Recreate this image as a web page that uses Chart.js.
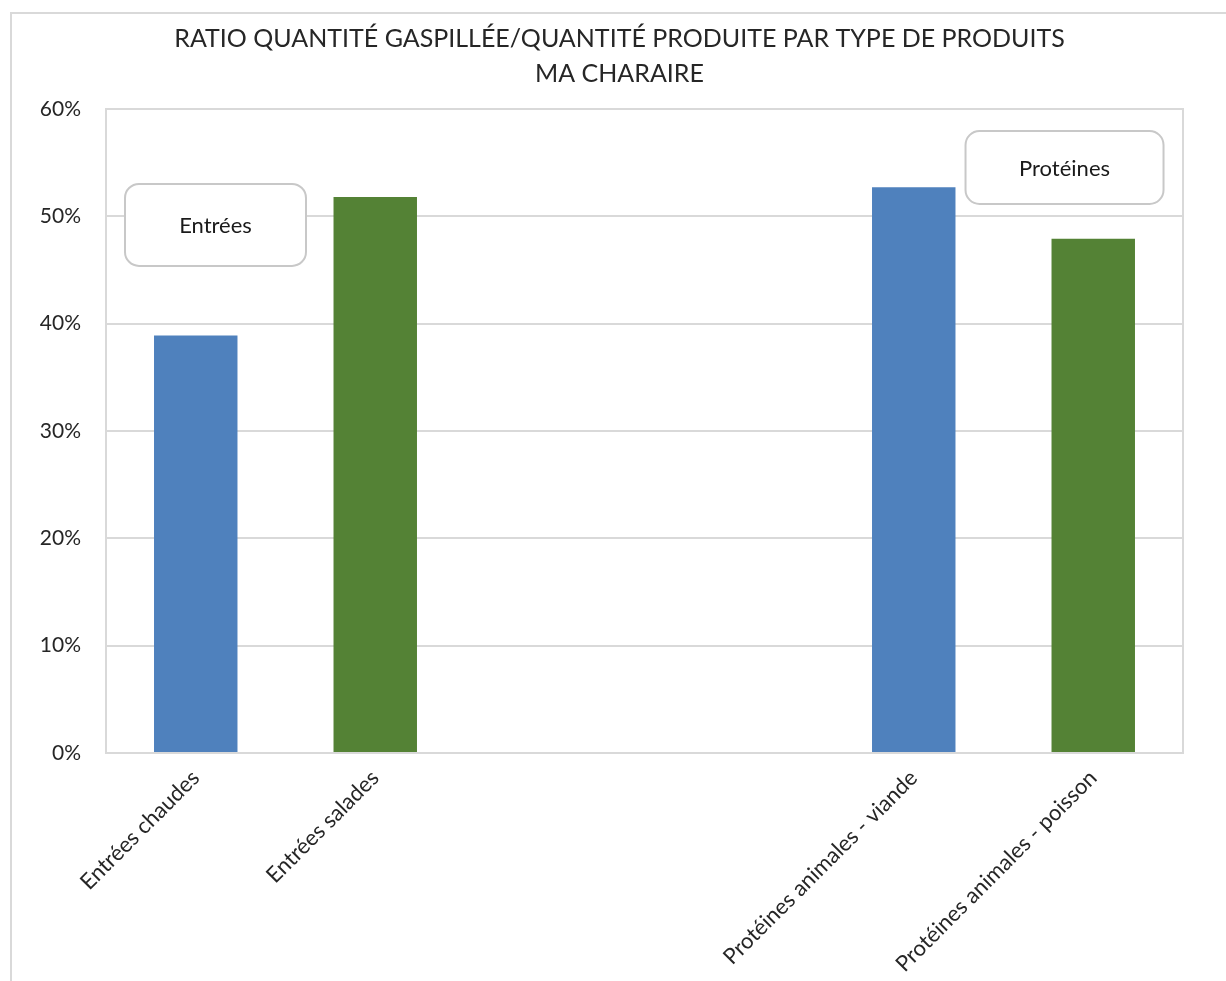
<!DOCTYPE html>
<html>
<head>
<meta charset="utf-8">
<script src="https://cdn.jsdelivr.net/npm/chart.js@4.4.1/dist/chart.umd.min.js"></script>
<style>
    html, body { margin: 0; padding: 0; background: #fff; }
    #wrap { width: 1226px; height: 981px; }
</style>
</head>
<body>
<div id="wrap"><canvas id="ratioChart"></canvas></div>
<script>
// Données du graphique
const categories = [
    "Entrées chaudes",
    "Entrées salades",
    "",
    "",
    "Protéines animales - viande",
    "Protéines animales - poisson",
];
const ratios = [38.9, 51.8, null, null, 52.7, 47.9];
const yTicks = [0, 10, 20, 30, 40, 50, 60];
const titleLines = [
    "RATIO QUANTITÉ GASPILLÉE/QUANTITÉ PRODUITE PAR TYPE DE PRODUITS",
    "MA CHARAIRE",
];
const groupLabels = ["Entrées", "Protéines"];

const barColors = ["#4F81BD", "#548235", "#4F81BD", "#548235", "#4F81BD", "#548235"];
const fontFamily = "Lato, 'Open Sans', sans-serif";
const textColor = "#262626";
const lineColor = "#d9d9d9";

// position des encadrés (index de catégorie, valeur en %), taille en px
const groupBoxes = [
    { x: 0.11, y: 49.2, w: 181, h: 82 },
    { x: 4.84, y: 54.55, w: 198, h: 73 },
];

// cadre extérieur, titre, bordure de la zone de tracé et encadrés
const decorPlugin = {
    id: "decor",
    beforeDraw(chart) {
        const ctx = chart.ctx;
        ctx.save();
        ctx.strokeStyle = lineColor;
        ctx.lineWidth = 2;
        ctx.beginPath();
        ctx.moveTo(11, chart.height);
        ctx.lineTo(11, 13);
        ctx.lineTo(chart.width, 13);
        ctx.stroke();

        // titre (centré sur le cadre extérieur, comme dans Excel)
        ctx.fillStyle = textColor;
        ctx.font = "25px " + fontFamily;
        ctx.textAlign = "center";
        ctx.textBaseline = "middle";
        const cx = (11 + chart.width) / 2 + 1;
        titleLines.forEach((line, i) => {
            ctx.fillText(line, cx, 39 + i * 35);
        });
        ctx.restore();
    },
    afterDatasetsDraw(chart) {
        const ctx = chart.ctx;
        const a = chart.chartArea;
        ctx.save();
        ctx.strokeStyle = lineColor;
        ctx.lineWidth = 2;
        ctx.strokeRect(a.left, a.top, a.right - a.left, a.bottom - a.top);

        const xs = chart.scales.x;
        const ys = chart.scales.y;
        groupBoxes.forEach((b, i) => {
            const cx = xs.getPixelForValue(b.x);
            const cy = ys.getPixelForValue(b.y);
            ctx.beginPath();
            ctx.roundRect(cx - b.w / 2, cy - b.h / 2, b.w, b.h, 14);
            ctx.fillStyle = "#fff";
            ctx.fill();
            ctx.strokeStyle = "#c8c8c8";
            ctx.lineWidth = 2;
            ctx.stroke();
            ctx.fillStyle = "#1a1a1a";
            ctx.font = "22px " + fontFamily;
            ctx.textAlign = "center";
            ctx.textBaseline = "middle";
            ctx.fillText(groupLabels[i], cx, cy + 1);
        });
        ctx.restore();
    },
};

const ctx = document.getElementById("ratioChart").getContext("2d");

new Chart(ctx, {
    type: "bar",
    data: {
        labels: categories,
        datasets: [
            {
                label: "Ratio",
                data: ratios,
                backgroundColor: barColors,
                categoryPercentage: 1,
                barPercentage: 0.465,
            },
        ],
    },
    options: {
        responsive: true,
        maintainAspectRatio: false,
        animation: false,
        layout: { padding: { left: 10, right: 43, top: 109, bottom: 0 } },
        scales: {
            x: {
                grid: { display: false, drawTicks: false },
                border: { display: false },
                ticks: {
                    autoSkip: false,
                    minRotation: 45,
                    maxRotation: 45,
                    padding: 12,
                    color: textColor,
                    font: { family: fontFamily, size: 22 },
                },
                afterFit(scale) {
                    scale.height = 228;
                },
            },
            y: {
                min: 0,
                max: 60,
                afterBuildTicks(scale) {
                    scale.ticks = yTicks.map((v) => ({ value: v }));
                },
                grid: { color: lineColor, lineWidth: 2, drawTicks: false },
                border: { display: false },
                ticks: {
                    padding: 25,
                    color: textColor,
                    font: { family: fontFamily, size: 21 },
                    callback: (v) => v + "%",
                },
                afterFit(scale) {
                    scale.width = 96;
                },
            },
        },
        plugins: {
            legend: { display: false },
            tooltip: { enabled: false },
            title: { display: false },
        },
    },
    plugins: [decorPlugin],
});
</script>
</body>
</html>
